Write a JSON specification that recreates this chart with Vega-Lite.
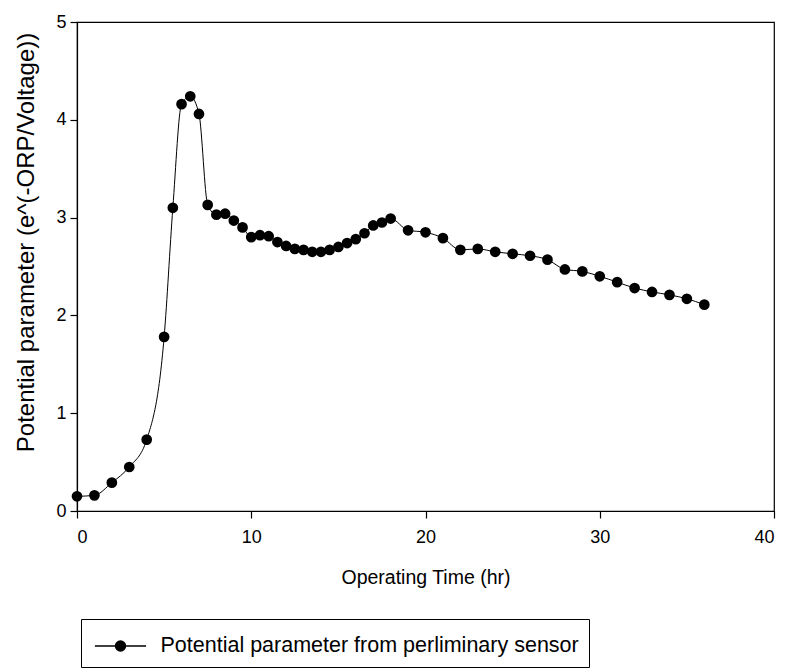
{
  "$schema": "https://vega.github.io/schema/vega-lite/v6.json",
  "width": 697,
  "height": 489,
  "autosize": {"type": "none"},
  "padding": {"left": 77, "top": 22, "right": 15, "bottom": 158},
  "background": "white",
  "data": {
    "values": [
      {"t": 0, "v": 0.15, "series": "Potential parameter from perliminary sensor"},
      {"t": 1, "v": 0.16, "series": "Potential parameter from perliminary sensor"},
      {"t": 2, "v": 0.29, "series": "Potential parameter from perliminary sensor"},
      {"t": 3, "v": 0.45, "series": "Potential parameter from perliminary sensor"},
      {"t": 4, "v": 0.73, "series": "Potential parameter from perliminary sensor"},
      {"t": 5, "v": 1.78, "series": "Potential parameter from perliminary sensor"},
      {"t": 5.5, "v": 3.10, "series": "Potential parameter from perliminary sensor"},
      {"t": 6, "v": 4.16, "series": "Potential parameter from perliminary sensor"},
      {"t": 6.5, "v": 4.24, "series": "Potential parameter from perliminary sensor"},
      {"t": 7, "v": 4.06, "series": "Potential parameter from perliminary sensor"},
      {"t": 7.5, "v": 3.13, "series": "Potential parameter from perliminary sensor"},
      {"t": 8, "v": 3.03, "series": "Potential parameter from perliminary sensor"},
      {"t": 8.5, "v": 3.04, "series": "Potential parameter from perliminary sensor"},
      {"t": 9, "v": 2.97, "series": "Potential parameter from perliminary sensor"},
      {"t": 9.5, "v": 2.90, "series": "Potential parameter from perliminary sensor"},
      {"t": 10, "v": 2.80, "series": "Potential parameter from perliminary sensor"},
      {"t": 10.5, "v": 2.82, "series": "Potential parameter from perliminary sensor"},
      {"t": 11, "v": 2.81, "series": "Potential parameter from perliminary sensor"},
      {"t": 11.5, "v": 2.75, "series": "Potential parameter from perliminary sensor"},
      {"t": 12, "v": 2.71, "series": "Potential parameter from perliminary sensor"},
      {"t": 12.5, "v": 2.68, "series": "Potential parameter from perliminary sensor"},
      {"t": 13, "v": 2.67, "series": "Potential parameter from perliminary sensor"},
      {"t": 13.5, "v": 2.65, "series": "Potential parameter from perliminary sensor"},
      {"t": 14, "v": 2.65, "series": "Potential parameter from perliminary sensor"},
      {"t": 14.5, "v": 2.67, "series": "Potential parameter from perliminary sensor"},
      {"t": 15, "v": 2.70, "series": "Potential parameter from perliminary sensor"},
      {"t": 15.5, "v": 2.74, "series": "Potential parameter from perliminary sensor"},
      {"t": 16, "v": 2.78, "series": "Potential parameter from perliminary sensor"},
      {"t": 16.5, "v": 2.84, "series": "Potential parameter from perliminary sensor"},
      {"t": 17, "v": 2.92, "series": "Potential parameter from perliminary sensor"},
      {"t": 17.5, "v": 2.95, "series": "Potential parameter from perliminary sensor"},
      {"t": 18, "v": 2.99, "series": "Potential parameter from perliminary sensor"},
      {"t": 19, "v": 2.87, "series": "Potential parameter from perliminary sensor"},
      {"t": 20, "v": 2.85, "series": "Potential parameter from perliminary sensor"},
      {"t": 21, "v": 2.79, "series": "Potential parameter from perliminary sensor"},
      {"t": 22, "v": 2.67, "series": "Potential parameter from perliminary sensor"},
      {"t": 23, "v": 2.68, "series": "Potential parameter from perliminary sensor"},
      {"t": 24, "v": 2.65, "series": "Potential parameter from perliminary sensor"},
      {"t": 25, "v": 2.63, "series": "Potential parameter from perliminary sensor"},
      {"t": 26, "v": 2.61, "series": "Potential parameter from perliminary sensor"},
      {"t": 27, "v": 2.57, "series": "Potential parameter from perliminary sensor"},
      {"t": 28, "v": 2.47, "series": "Potential parameter from perliminary sensor"},
      {"t": 29, "v": 2.45, "series": "Potential parameter from perliminary sensor"},
      {"t": 30, "v": 2.40, "series": "Potential parameter from perliminary sensor"},
      {"t": 31, "v": 2.34, "series": "Potential parameter from perliminary sensor"},
      {"t": 32, "v": 2.28, "series": "Potential parameter from perliminary sensor"},
      {"t": 33, "v": 2.24, "series": "Potential parameter from perliminary sensor"},
      {"t": 34, "v": 2.21, "series": "Potential parameter from perliminary sensor"},
      {"t": 35, "v": 2.17, "series": "Potential parameter from perliminary sensor"},
      {"t": 36, "v": 2.11, "series": "Potential parameter from perliminary sensor"}
    ]
  },
  "encoding": {
    "x": {
      "field": "t",
      "type": "quantitative",
      "title": "Operating Time (hr)",
      "scale": {"domain": [0, 40], "nice": false, "zero": false},
      "axis": {"values": [0, 10, 20, 30, 40], "labelPadding": 10, "titlePadding": 22, "titleFontSize": 19.5}
    },
    "y": {
      "field": "v",
      "type": "quantitative",
      "title": "Potential parameter (e^(-ORP/Voltage))",
      "scale": {"domain": [0, 5], "nice": false},
      "axis": {"values": [0, 1, 2, 3, 4, 5], "titlePadding": 17, "titleFontSize": 24, "titleY": 220, "titleAlign": "center"}
    },
    "color": {
      "field": "series",
      "type": "nominal",
      "scale": {"range": ["black"]},
      "legend": {
        "orient": "none",
        "legendX": 4,
        "legendY": 597,
        "title": null,
        "strokeColor": "black",
        "padding": 10,
        "symbolType": "M-1.6,0L1.6,0M0.31,0A0.31,0.31,0,1,1,-0.31,0A0.31,0.31,0,1,1,0.31,0Z",
        "symbolSize": 1024,
        "symbolOffset": 12.5,
        "labelOffset": 23,
        "labelFont": "Liberation Sans",
        "labelFontSize": 21.5,
        "labelColor": "black",
        "labelLimit": 0,
        "encode": {
          "symbols": {
            "update": {
              "fill": {"value": "black"},
              "stroke": {"value": "black"},
              "strokeWidth": {"value": 1.5},
              "opacity": {"value": 1}
            }
          }
        }
      }
    }
  },
  "layer": [
    {
      "mark": {"type": "line", "interpolate": "monotone", "strokeWidth": 1, "color": "black"}
    },
    {
      "mark": {"type": "point", "filled": true, "size": 115, "opacity": 1, "color": "black"}
    }
  ],
  "config": {
    "view": {"stroke": "black", "strokeWidth": 1.2},
    "axis": {
      "grid": false,
      "domainColor": "black",
      "domainWidth": 1.2,
      "tickColor": "black",
      "tickSize": 7,
      "tickWidth": 1.2,
      "labelFont": "Liberation Sans",
      "labelFontSize": 18,
      "labelColor": "black",
      "labelPadding": 4,
      "titleFont": "Liberation Sans",
      "titleFontSize": 20,
      "titleFontWeight": "normal",
      "titleColor": "black"
    }
  }
}
